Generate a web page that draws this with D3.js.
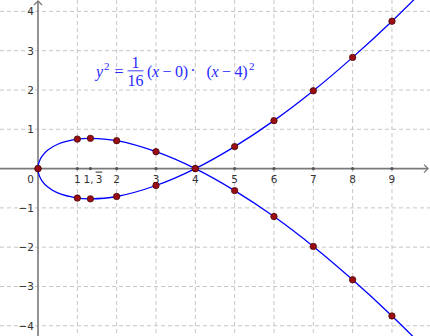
<!DOCTYPE html>
<html>
<head>
<meta charset="utf-8">
<script src="https://cdn.jsdelivr.net/npm/d3@7"></script>
<style>
  html, body { margin: 0; padding: 0; background: #fff; }
  svg { display: block; }
</style>
</head>
<body>
<svg id="plot" width="430" height="336"></svg>
<script>
// y^2 = 1/16 (x - 0)(x - 4)^2  — nodal cubic, GeoGebra look
const gridX = [1, 2, 3, 4, 5, 6, 7, 8, 9];
const gridY = [-4, -3, -2, -1, 1, 2, 3, 4];
const xTickVals = [1, 4 / 3, 2, 3, 4, 5, 6, 7, 8, 9];
const xTickLabels = ["1", "1,3", "2", "3", "4", "5", "6", "7", "8", "9"];
const yTickVals = [4, 3, 2, 1, -1, -2, -3, -4];
const yTickLabels = ["4", "3", "2", "1", "\u22121", "\u22122", "\u22123", "\u22124"];

// marked points on the curve
const ptX = [0, 1, 1.333, 2, 3, 4, 5, 6, 7, 8, 9];
const ptUpper = [0, 0.75, 0.77, 0.71, 0.43, 0, 0.56, 1.22, 1.98, 2.83, 3.75];
const ptLower = [0, -0.75, -0.77, -0.71, -0.43, 0, -0.56, -1.22, -1.98, -2.83, -3.75];

// sampled branches of the curve
const curveX = [0, 0.005, 0.02, 0.05, 0.1, 0.25, 0.5, 1, 1.333, 2, 3, 4, 5, 6, 7, 8, 9, 10];
const branchA = [0, 0.07, 0.14, 0.22, 0.31, 0.47, 0.62, 0.75, 0.77, 0.71, 0.43, 0, -0.56, -1.22, -1.98, -2.83, -3.75, -4.74];
const branchB = [0, -0.07, -0.14, -0.22, -0.31, -0.47, -0.62, -0.75, -0.77, -0.71, -0.43, 0, 0.56, 1.22, 1.98, 2.83, 3.75, 4.74];

const W = 430, H = 336;
const svg = d3.select("#plot");

const x = d3.scaleLinear().domain([-0.966, 9.967]).range([0, W]);
const y = d3.scaleLinear().domain([4.29, -4.26]).range([0, H]);

const gridColor = "#c6c6c6", axisColor = "#7a7a7a", labelColor = "#333";

// grid
svg.append("g").selectAll("line").data(gridX).join("line")
  .attr("x1", d => x(d)).attr("x2", d => x(d))
  .attr("y1", 0).attr("y2", H)
  .attr("stroke", gridColor).attr("stroke-dasharray", "4,3");
svg.append("g").selectAll("line").data(gridY).join("line")
  .attr("x1", 0).attr("x2", W)
  .attr("y1", d => y(d)).attr("y2", d => y(d))
  .attr("stroke", gridColor).attr("stroke-dasharray", "4,3");

// axes
const x0 = x(0), y0 = y(0);
svg.append("line").attr("x1", 0).attr("x2", W - 2).attr("y1", y0).attr("y2", y0)
  .attr("stroke", axisColor).attr("stroke-width", 1.6);
svg.append("line").attr("x1", x0).attr("x2", x0).attr("y1", 1).attr("y2", H)
  .attr("stroke", axisColor).attr("stroke-width", 1.6);
svg.append("path").attr("d", `M${W - 6},${y0 - 4}L${W - 2},${y0}L${W - 6},${y0 + 4}`)
  .attr("fill", "none").attr("stroke", axisColor).attr("stroke-width", 1.3);
svg.append("path").attr("d", `M${x0 - 4},5L${x0},1L${x0 + 4},5`)
  .attr("fill", "none").attr("stroke", axisColor).attr("stroke-width", 1.3);

// tick marks on x axis
svg.append("g").selectAll("circle").data(xTickVals).join("circle")
  .attr("cx", d => x(d)).attr("cy", y0).attr("r", 1.6)
  .attr("fill", "#555");

// tick labels
const xl = svg.append("g").style("font-family", "'DejaVu Sans', sans-serif")
  .style("font-size", "10.5px").attr("fill", labelColor);
xl.selectAll("text").data(xTickVals).join("text")
  .attr("x", d => x(d)).attr("y", y0 + 14)
  .attr("text-anchor", "middle")
  .each(function (d, i) {
    const t = d3.select(this);
    if (xTickLabels[i] === "1,3") {
      t.attr("dx", 2.5);
      t.append("tspan").text("1,\u2009");
      t.append("tspan").style("text-decoration", "overline").text("3");
    } else {
      t.text(xTickLabels[i]);
    }
  });
xl.append("text").attr("x", x0 - 4).attr("y", y0 + 14)
  .attr("text-anchor", "end").text("0");
xl.selectAll("text.yl").data(yTickVals).join("text")
  .attr("class", "yl")
  .attr("x", x0 - 4).attr("y", d => y(d) + 4)
  .attr("text-anchor", "end")
  .text((d, i) => yTickLabels[i]);

// curve branches
const line = d3.line().x(d => x(d[0])).y(d => y(d[1])).curve(d3.curveCatmullRom.alpha(0.5));
[branchA, branchB].forEach(br => {
  svg.append("path").datum(curveX.map((v, i) => [v, br[i]]))
    .attr("fill", "none").attr("stroke", "#0000ff").attr("stroke-width", 1.3)
    .attr("d", line);
});

// points
const pts = ptX.map((v, i) => [v, ptUpper[i]]).concat(ptX.map((v, i) => [v, ptLower[i]]));
svg.append("g").selectAll("circle").data(pts).join("circle")
  .attr("cx", d => x(d[0])).attr("cy", d => y(d[1])).attr("r", 3.2)
  .attr("fill", "#9a0d12").attr("stroke", "#4a0b0b").attr("stroke-width", 0.8);

// formula, laid out piece by piece
const fc = "#2a2aff";
const f = svg.append("g").attr("fill", fc)
  .style("font-family", "'Liberation Serif', 'DejaVu Serif', serif").style("font-size", "16px");
const yb = 77;
const piece = (px, py, txt, opts = {}) => {
  const t = f.append("text").attr("x", px).attr("y", py)
    .attr("text-anchor", opts.anchor || "start");
  if (opts.size) t.style("font-size", opts.size);
  if (opts.italic) t.style("font-style", "italic");
  t.text(txt);
  return t;
};
const group = (px, inner) => {
  const t = f.append("text").attr("x", px).attr("y", yb)
    .attr("textLength", 41).attr("lengthAdjust", "spacing");
  t.append("tspan").text("(");
  t.append("tspan").style("font-style", "italic").text("x");
  t.append("tspan").text(` \u2212 ${inner})`);
};
piece(96, yb, "y", { italic: true });
piece(104, yb - 7, "2", { size: "11px" });
piece(119, yb, "=", { anchor: "middle" });
piece(135.5, 68, "1", { anchor: "middle" });
piece(135.5, 85.5, "16", { anchor: "middle" });
f.append("line").attr("x1", 127.5).attr("x2", 143.5).attr("y1", 70.8).attr("y2", 70.8)
  .attr("stroke", fc).attr("stroke-width", 0.9);
group(147, "0");
piece(193, yb - 1, "\u00b7", { anchor: "middle" });
group(206.5, "4");
piece(249, yb - 7, "2", { size: "11px" });
</script>
</body>
</html>
